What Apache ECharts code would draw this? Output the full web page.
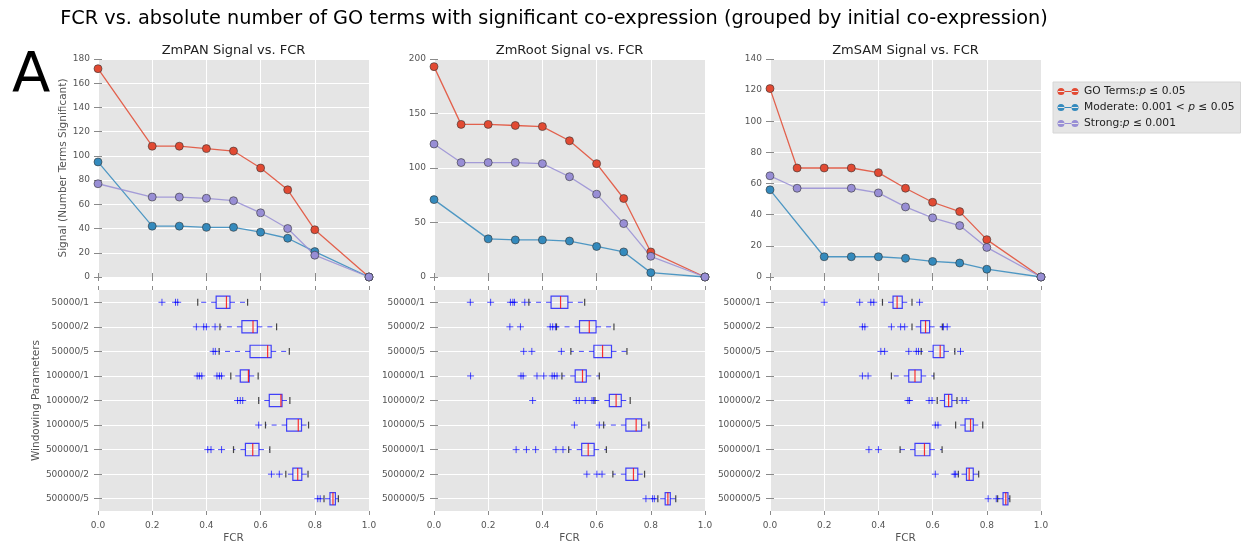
<!DOCTYPE html>
<html>
<head>
<meta charset="utf-8">
<script src="https://cdn.jsdelivr.net/npm/echarts@6/dist/echarts.min.js"></script>
<style>
  html, body { margin: 0; padding: 0; background: #fff; }
  #chart { width: 1248px; height: 543px; }
</style>
</head>
<body>
<div id="chart"></div>
<script>
// ---- text ----
const mainTitle = 'FCR vs. absolute number of GO terms with significant co-expression (grouped by initial co-expression)';
const panelLetter = 'A';
const panelTitles = ['ZmPAN Signal vs. FCR', 'ZmRoot Signal vs. FCR', 'ZmSAM Signal vs. FCR'];
const seriesNames = ['GO Terms', 'Moderate', 'Strong'];
const legendTexts = ['GO Terms:{i|p} ≤ 0.05', 'Moderate: 0.001 < {i|p} ≤ 0.05', 'Strong:{i|p} ≤ 0.001'];
const signalAxisName = 'Signal (Number Terms Significant)';
const windowAxisName = 'Windowing Parameters';
const fcrAxisName = 'FCR';

// ---- axes ----
const windowLabels = ['50000/1', '50000/2', '50000/5', '100000/1', '100000/2', '100000/5', '500000/1', '500000/2', '500000/5'];
const signalMax = [180, 200, 140];
const signalStep = [20, 50, 20];
const fcrMin = 0, fcrMax = 1, fcrStep = 0.2;

// ---- signal curves (null = no point at that FCR) ----
const panX = [0, 0.2, 0.3, 0.4, 0.5, 0.6, 0.7, 0.8, 1.0];
const panGo = [172, 108, 108, 106, 104, 90, 72, 39, 0];
const panModerate = [95, 42, 42, 41, 41, 37, 32, 21, 0];
const panStrong = [77, 66, 66, 65, 63, 53, 40, 18, 0];

const rootX = [0, 0.1, 0.2, 0.3, 0.4, 0.5, 0.6, 0.7, 0.8, 1.0];
const rootGo = [193, 140, 140, 139, 138, 125, 104, 72, 23, 0];
const rootModerate = [71, null, 35, 34, 34, 33, 28, 23, 4, 0];
const rootStrong = [122, 105, 105, 105, 104, 92, 76, 49, 19, 0];

const samX = [0, 0.1, 0.2, 0.3, 0.4, 0.5, 0.6, 0.7, 0.8, 1.0];
const samGo = [121, 70, 70, 70, 67, 57, 48, 42, 24, 0];
const samModerate = [56, null, 13, 13, 13, 12, 10, 9, 5, 0];
const samStrong = [65, 57, null, 57, 54, 45, 38, 33, 19, 0];

// ---- FCR distributions per windowing: [lower cap, Q1, median, Q3, upper cap] ----
const panBoxes = [
  [0.368, 0.436, 0.474, 0.487, 0.552],
  [0.450, 0.531, 0.572, 0.588, 0.659],
  [0.447, 0.561, 0.626, 0.639, 0.706],
  [0.490, 0.525, 0.555, 0.558, 0.591],
  [0.593, 0.632, 0.675, 0.679, 0.708],
  [0.618, 0.696, 0.739, 0.751, 0.777],
  [0.500, 0.544, 0.571, 0.594, 0.634],
  [0.693, 0.719, 0.737, 0.752, 0.775],
  [0.834, 0.856, 0.867, 0.876, 0.887]
];
const panOutliers = [
  [0.236, 0.286, 0.294],
  [0.363, 0.390, 0.400, 0.432],
  [0.425, 0.433],
  [0.366, 0.374, 0.383, 0.439, 0.448, 0.456],
  [0.515, 0.525, 0.534],
  [0.593],
  [0.405, 0.417, 0.456],
  [0.640, 0.669],
  [0.811, 0.820]
];
const rootBoxes = [
  [0.350, 0.432, 0.467, 0.494, 0.556],
  [0.452, 0.537, 0.573, 0.598, 0.664],
  [0.505, 0.590, 0.622, 0.655, 0.712],
  [0.472, 0.521, 0.548, 0.562, 0.610],
  [0.594, 0.647, 0.672, 0.691, 0.724],
  [0.626, 0.708, 0.746, 0.766, 0.793],
  [0.497, 0.545, 0.569, 0.591, 0.636],
  [0.660, 0.708, 0.736, 0.752, 0.777],
  [0.826, 0.853, 0.863, 0.872, 0.892]
];
const rootOutliers = [
  [0.134, 0.209, 0.282, 0.291, 0.297, 0.335],
  [0.280, 0.319, 0.429, 0.438, 0.448],
  [0.331, 0.361, 0.470],
  [0.135, 0.321, 0.329, 0.380, 0.405, 0.436, 0.444, 0.454],
  [0.364, 0.525, 0.536, 0.558, 0.583, 0.589],
  [0.518, 0.610],
  [0.303, 0.341, 0.375, 0.450, 0.476],
  [0.564, 0.601, 0.620],
  [0.782, 0.806, 0.813]
];
const samBoxes = [
  [0.415, 0.454, 0.469, 0.488, 0.524],
  [0.524, 0.556, 0.574, 0.589, 0.636],
  [0.558, 0.602, 0.628, 0.642, 0.682],
  [0.448, 0.512, 0.535, 0.558, 0.605],
  [0.617, 0.644, 0.659, 0.671, 0.690],
  [0.685, 0.720, 0.740, 0.750, 0.785],
  [0.480, 0.535, 0.570, 0.590, 0.635],
  [0.695, 0.725, 0.735, 0.750, 0.770],
  [0.840, 0.860, 0.870, 0.878, 0.885]
];
const samOutliers = [
  [0.200, 0.331, 0.372, 0.383, 0.552],
  [0.341, 0.350, 0.448, 0.482, 0.497, 0.640, 0.654],
  [0.409, 0.423, 0.512, 0.540, 0.548, 0.703],
  [0.341, 0.362],
  [0.509, 0.515, 0.587, 0.598, 0.709, 0.724],
  [0.610, 0.620],
  [0.365, 0.400],
  [0.610, 0.680, 0.685],
  [0.805, 0.835]
];

// ---- styling ----
const FONT = 'DejaVu Sans';
const seriesColors = ['#E24A33', '#348ABD', '#988ED5'];
const PANEL_BG = '#E5E5E5';
const TICK_COLOR = '#8a8a8a';
const LABEL_COLOR = '#555555';
const BOX_BLUE = 'rgba(0,0,255,0.72)';
const MEDIAN_RED = 'rgba(255,0,0,0.8)';
const CAP_BLACK = 'rgba(0,0,0,0.7)';
const FLIER_BLUE = 'rgba(0,0,255,0.7)';

const colLeft = [98, 434, 770];
const colWidth = 271;
const topY = 59, topH = 218;
const botY = 290, botH = 221;

const curves = [
  { x: panX, ys: [panGo, panModerate, panStrong] },
  { x: rootX, ys: [rootGo, rootModerate, rootStrong] },
  { x: samX, ys: [samGo, samModerate, samStrong] }
];
const boxSets = [panBoxes, rootBoxes, samBoxes];
const outlierSets = [panOutliers, rootOutliers, samOutliers];

const tick = { show: true, inside: false, length: 4, lineStyle: { color: TICK_COLOR, width: 1 } };
const noLine = { show: false };
const whiteGrid = { show: true, lineStyle: { color: '#ffffff', width: 1 } };
const tickLabel = { fontSize: 9, color: LABEL_COLOR, fontFamily: FONT };

// ---- grids ----
const grids = [];
for (let i = 0; i < 3; i++) {
  grids.push({ left: colLeft[i], top: topY, width: colWidth, height: topH, show: true, backgroundColor: PANEL_BG, borderWidth: 0, containLabel: false, outerBoundsMode: 'none' });
}
for (let i = 0; i < 3; i++) {
  grids.push({ left: colLeft[i], top: botY, width: colWidth, height: botH, show: true, backgroundColor: PANEL_BG, borderWidth: 0, containLabel: false, outerBoundsMode: 'none' });
}

// ---- axes: 0-5 main, 6-11 mirrored tick axes ----
const xAxes = [], yAxes = [];
for (let i = 0; i < 3; i++) {
  xAxes.push({ type: 'value', gridIndex: i, min: fcrMin, max: fcrMax, interval: fcrStep, axisLine: noLine, axisTick: tick, axisLabel: { show: false }, splitLine: whiteGrid });
}
for (let i = 0; i < 3; i++) {
  xAxes.push({
    type: 'value', gridIndex: 3 + i, min: fcrMin, max: fcrMax, interval: fcrStep,
    axisLine: noLine, axisTick: tick, splitLine: whiteGrid,
    axisLabel: Object.assign({ margin: 10, formatter: v => v.toFixed(1) }, tickLabel),
    name: fcrAxisName, nameLocation: 'middle', nameGap: 22,
    nameTextStyle: { fontSize: 10.5, color: LABEL_COLOR, fontFamily: FONT }
  });
}
for (let g = 0; g < 6; g++) {
  xAxes.push({ type: 'value', gridIndex: g, position: 'top', min: fcrMin, max: fcrMax, interval: fcrStep, axisLine: noLine, axisTick: tick, axisLabel: { show: false }, splitLine: { show: false } });
}
for (let i = 0; i < 3; i++) {
  const ax = {
    type: 'value', gridIndex: i, min: 0, max: signalMax[i], interval: signalStep[i],
    axisLine: noLine, axisTick: tick, splitLine: whiteGrid,
    axisLabel: Object.assign({ margin: 8 }, tickLabel)
  };
  if (i === 0) {
    Object.assign(ax, { name: signalAxisName, nameLocation: 'middle', nameGap: 28, nameRotate: 90,
      nameTextStyle: { fontSize: 10.5, color: LABEL_COLOR, fontFamily: FONT } });
  }
  yAxes.push(ax);
}
for (let i = 0; i < 3; i++) {
  const ax = {
    type: 'category', gridIndex: 3 + i, data: windowLabels, inverse: true,
    axisLine: noLine,
    axisTick: Object.assign({ alignWithLabel: true }, tick),
    splitLine: { show: true, alignWithLabel: true, lineStyle: { color: '#ffffff', width: 1 } },
    axisLabel: Object.assign({ margin: 9, interval: 0 }, tickLabel)
  };
  if (i === 0) {
    Object.assign(ax, { name: windowAxisName, nameLocation: 'middle', nameGap: 55, nameRotate: 90,
      nameTextStyle: { fontSize: 10.5, color: LABEL_COLOR, fontFamily: FONT } });
  }
  yAxes.push(ax);
}
for (let i = 0; i < 3; i++) {
  yAxes.push({ type: 'value', gridIndex: i, position: 'right', min: 0, max: signalMax[i], interval: signalStep[i], axisLine: noLine, axisTick: tick, axisLabel: { show: false }, splitLine: { show: false } });
}
for (let i = 0; i < 3; i++) {
  yAxes.push({ type: 'category', gridIndex: 3 + i, position: 'right', data: windowLabels, inverse: true, axisLine: noLine,
    axisTick: Object.assign({ alignWithLabel: true }, tick), axisLabel: { show: false }, splitLine: { show: false } });
}

// ---- box plot drawing ----
function renderBox(params, api) {
  const row = api.value(0);
  const at = v => api.coord([v, row]);
  const band = api.size([0, 1])[1];
  const half = band * 0.25;
  const capHalf = band * 0.14;
  const lo = at(api.value(1))[0];
  const q1 = at(api.value(2))[0];
  const md = at(api.value(3))[0];
  const q3 = at(api.value(4))[0];
  const hi = at(api.value(5))[0];
  const y = at(api.value(3))[1];
  const whisker = { stroke: BOX_BLUE, lineWidth: 1, lineDash: [5, 5] };
  const cap = { stroke: CAP_BLACK, lineWidth: 1.2 };
  return {
    type: 'group',
    children: [
      { type: 'line', shape: { x1: q1, y1: y, x2: lo, y2: y }, style: whisker },
      { type: 'line', shape: { x1: q3, y1: y, x2: hi, y2: y }, style: whisker },
      { type: 'line', shape: { x1: lo, y1: y - capHalf, x2: lo, y2: y + capHalf }, style: cap },
      { type: 'line', shape: { x1: hi, y1: y - capHalf, x2: hi, y2: y + capHalf }, style: cap },
      { type: 'rect', shape: { x: q1, y: y - half, width: q3 - q1, height: 2 * half }, style: { fill: 'rgba(0,0,0,0)', stroke: BOX_BLUE, lineWidth: 1.2 } },
      { type: 'line', shape: { x1: md, y1: y - half, x2: md, y2: y + half }, style: { stroke: MEDIAN_RED, lineWidth: 1.2 } }
    ]
  };
}
function renderFlier(params, api) {
  const p = api.coord([api.value(0), api.value(1)]);
  const s = 3.5;
  const st = { stroke: FLIER_BLUE, lineWidth: 1 };
  return {
    type: 'group',
    children: [
      { type: 'line', shape: { x1: p[0] - s, y1: p[1], x2: p[0] + s, y2: p[1] }, style: st },
      { type: 'line', shape: { x1: p[0], y1: p[1] - s, x2: p[0], y2: p[1] + s }, style: st }
    ]
  };
}

// ---- series ----
const series = [];
curves.forEach((c, panel) => {
  c.ys.forEach((ys, k) => {
    const data = [];
    c.x.forEach((x, j) => { if (ys[j] !== null) data.push([x, ys[j]]); });
    series.push({
      type: 'line', name: seriesNames[k], xAxisIndex: panel, yAxisIndex: panel, data,
      symbol: 'circle', symbolSize: 8, showSymbol: true, color: seriesColors[k],
      lineStyle: { width: 1.3, color: seriesColors[k], opacity: 0.85 },
      itemStyle: { color: seriesColors[k], borderColor: 'rgba(50,50,50,0.75)', borderWidth: 0.8 },
      emphasis: { disabled: true }, animation: false, z: 3
    });
  });
});
boxSets.forEach((boxes, panel) => {
  series.push({
    type: 'custom', xAxisIndex: 3 + panel, yAxisIndex: 3 + panel,
    data: boxes.map((b, row) => [row].concat(b)),
    encode: { x: [1, 2, 3, 4, 5], y: 0 },
    renderItem: renderBox, silent: true, animation: false, z: 3
  });
});
outlierSets.forEach((lists, panel) => {
  const data = [];
  lists.forEach((vals, row) => vals.forEach(v => data.push([v, row])));
  series.push({
    type: 'custom', xAxisIndex: 3 + panel, yAxisIndex: 3 + panel, data,
    encode: { x: 0, y: 1 }, renderItem: renderFlier, silent: true, animation: false, z: 3
  });
});

// ---- titles ----
const titles = [
  { text: mainTitle, left: 554, top: 9, textAlign: 'center', padding: 0,
    textStyle: { fontSize: 19.3, fontWeight: 'normal', color: '#000', fontFamily: FONT } },
  { text: panelLetter, left: 12, top: 48, padding: 0,
    textStyle: { fontSize: 56, fontWeight: 'normal', color: '#000', fontFamily: FONT } }
];
panelTitles.forEach((t, i) => {
  titles.push({ text: t, left: colLeft[i] + colWidth / 2, top: 44, textAlign: 'center', padding: 0,
    textStyle: { fontSize: 13, fontWeight: 'normal', color: '#222', fontFamily: FONT } });
});

const legendIcon = 'path://M0,3.4H22V4.6H0Z M0.5,4A3.5,3.5,0,1,0,7.5,4A3.5,3.5,0,1,0,0.5,4Z M14.5,4A3.5,3.5,0,1,0,21.5,4A3.5,3.5,0,1,0,14.5,4Z';

const option = {
  animation: false,
  textStyle: { fontFamily: FONT },
  title: titles,
  grid: grids,
  xAxis: xAxes,
  yAxis: yAxes,
  legend: {
    data: seriesNames,
    orient: 'vertical', left: 1053, top: 82,
    padding: [3, 6, 3, 4], itemGap: 3, itemWidth: 22, itemHeight: 8,
    icon: legendIcon,
    itemStyle: { borderWidth: 0 },
    backgroundColor: PANEL_BG, borderColor: '#d6d6d6', borderWidth: 1, borderRadius: 0,
    selectedMode: false,
    formatter: name => legendTexts[seriesNames.indexOf(name)],
    textStyle: { fontSize: 10.7, color: '#222', fontFamily: FONT, lineHeight: 13,
      rich: { i: { fontStyle: 'italic', fontSize: 10.7, color: '#222', fontFamily: FONT, lineHeight: 13 } } }
  },
  series
};

const chart = echarts.init(document.getElementById('chart'), null, { renderer: 'canvas' });
chart.setOption(option);
</script>
</body>
</html>
